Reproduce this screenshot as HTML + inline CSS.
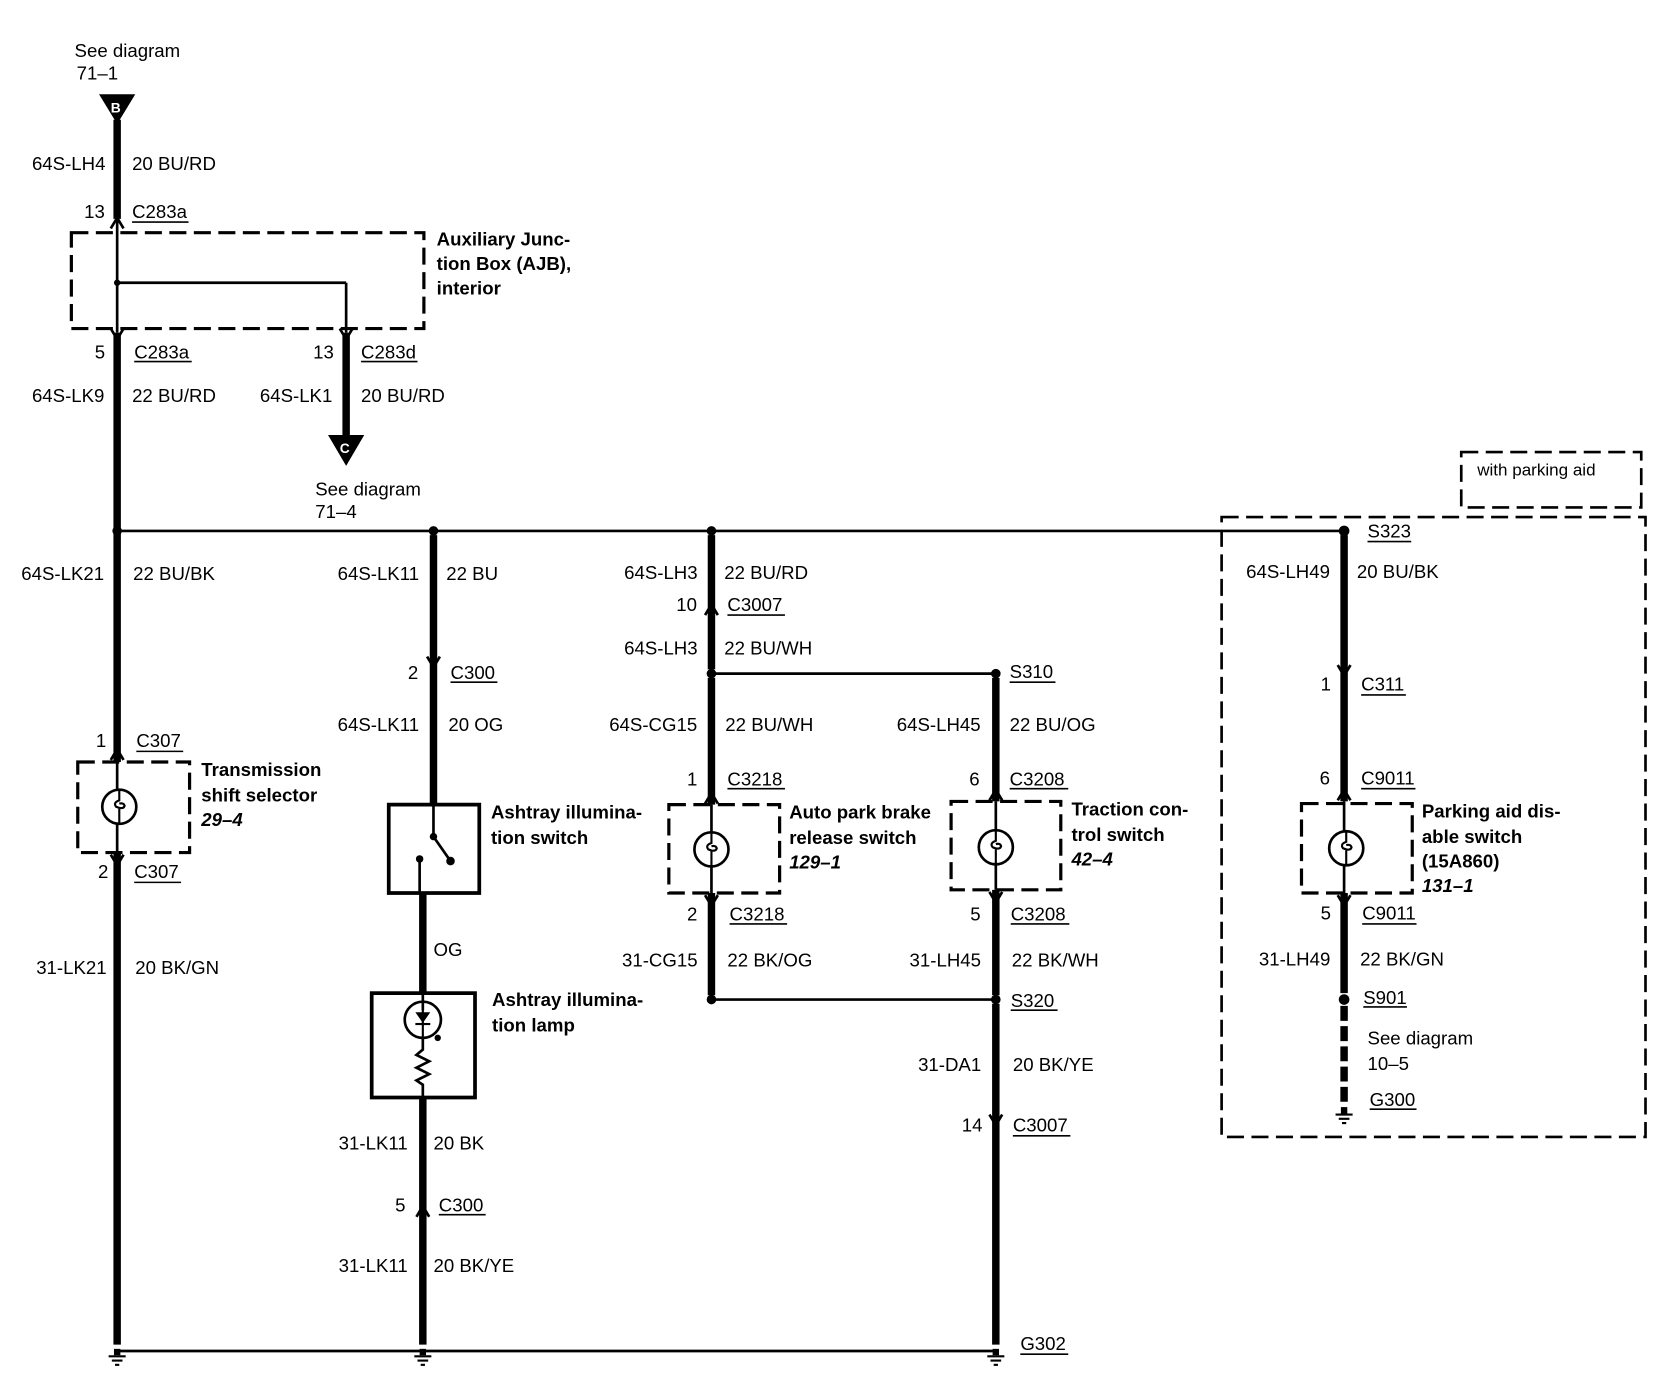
<!DOCTYPE html>
<html><head><meta charset="utf-8"><style>
html,body{margin:0;padding:0;background:#fff;}
svg{display:block}
text{font-family:"Liberation Sans",sans-serif;font-size:17.5px;fill:#000}
.b{font-weight:bold}
.i{font-weight:bold;font-style:italic}
</style></head><body>
<svg width="1670" height="1376" viewBox="0 0 1568 1291" xmlns="http://www.w3.org/2000/svg">
<defs>
<g id="gnd"><rect x="-3" y="-6" width="6" height="6"/><line x1="-8" y1="1" x2="8" y2="1" stroke="#000" stroke-width="2"/><line x1="-5" y1="5" x2="5" y2="5" stroke="#000" stroke-width="2"/><line x1="-2" y1="9" x2="2" y2="9" stroke="#000" stroke-width="2"/></g>
<g id="up"><path d="M-6,6 L0,-4 L6,6" fill="none" stroke="#000" stroke-width="2.5"/></g>
<g id="dn"><path d="M-6,-6 L0,4 L6,-6" fill="none" stroke="#000" stroke-width="2.5"/></g>
<g id="sw"><circle cx="0" cy="0" r="16" fill="#fff" stroke="#000" stroke-width="2.5"/><path d="M0,-16 L0,-6 Q-6,-4 -3,0 Q4,3 5,-1 Q4,-4 0,-3" fill="none" stroke="#000" stroke-width="2"/><line x1="0" y1="2" x2="0" y2="16" stroke="#000" stroke-width="2"/></g>
</defs>
<g stroke="#000" fill="none">
<g stroke-width="2.5">
<line x1="110" y1="205" x2="110" y2="312"/>
<line x1="110" y1="265" x2="325" y2="265"/>
<line x1="325" y1="265" x2="325" y2="312"/>
<line x1="110" y1="498" x2="1262" y2="498"/>
<line x1="668" y1="632" x2="935" y2="632"/>
<line x1="668" y1="938" x2="935" y2="938"/>
<line x1="110" y1="1268" x2="935" y2="1268"/>
<line x1="110" y1="715" x2="110" y2="800"/>
<line x1="668" y1="755" x2="668" y2="838"/>
<line x1="935" y1="752" x2="935" y2="835"/>
<line x1="1262" y1="752" x2="1262" y2="838"/>
</g>
<g stroke-width="7">
<line x1="110" y1="112" x2="110" y2="205"/>
<line x1="110" y1="312" x2="110" y2="715"/>
<line x1="110" y1="800" x2="110" y2="1262"/>
<line x1="325" y1="312" x2="325" y2="412"/>
<line x1="407" y1="502" x2="407" y2="755"/>
<line x1="397" y1="838" x2="397" y2="932"/>
<line x1="397" y1="1030" x2="397" y2="1262"/>
<line x1="668" y1="502" x2="668" y2="628"/>
<line x1="668" y1="636" x2="668" y2="755"/>
<line x1="668" y1="838" x2="668" y2="934"/>
<line x1="935" y1="636" x2="935" y2="752"/>
<line x1="935" y1="835" x2="935" y2="934"/>
<line x1="935" y1="942" x2="935" y2="1262"/>
<line x1="1262" y1="502" x2="1262" y2="752"/>
<line x1="1262" y1="838" x2="1262" y2="932"/>
<line x1="1262" y1="944" x2="1262" y2="1038" stroke-dasharray="14,5"/>
</g>
<g stroke-width="3" stroke-dasharray="16,7">
<rect x="67" y="218" width="331" height="90"/>
<rect x="73" y="715" width="105" height="85"/>
<rect x="628" y="755" width="104" height="83"/>
<rect x="893" y="752" width="103" height="83"/>
<rect x="1222" y="754" width="104" height="84"/>
<rect x="1147" y="485" width="398" height="582" stroke-width="2.5"/>
<rect x="1372" y="424" width="169" height="52" stroke-width="2.5"/>
</g>
<rect x="365" y="755" width="85" height="83" stroke-width="3.5"/>
<rect x="349" y="932" width="97" height="98" stroke-width="3.5"/>
<g stroke-width="2.5">
<line x1="407" y1="755" x2="407" y2="785"/>
<line x1="407" y1="785" x2="423" y2="808"/>
<line x1="394" y1="806" x2="394" y2="838"/>
<line x1="397" y1="932" x2="397" y2="948"/>
<circle cx="397" cy="957" r="17"/>
<path d="M397,974 L397,985 L391,990 L403,996 L391,1002 L403,1008 L391,1014 L397,1018 L397,1030"/>
</g>
</g>
<circle cx="407" cy="785" r="3.5"/><circle cx="423" cy="808" r="4"/><circle cx="394" cy="806" r="3.5"/>
<path d="M390,950 L404,950 L397,960 Z"/><line x1="390" y1="961" x2="404" y2="961" stroke="#000" stroke-width="2"/><line x1="397" y1="940" x2="397" y2="974" stroke="#000" stroke-width="2"/>
<circle cx="411" cy="974" r="3"/>
<use href="#sw" x="112" y="757"/>
<use href="#sw" x="668" y="797"/>
<use href="#sw" x="935" y="795"/>
<use href="#sw" x="1264" y="796"/>
<path d="M93,88 L127,88 L110,116 Z"/>
<text x="104" y="105" style="fill:#fff;font-size:13px" class="b">B</text>
<path d="M308,408 L342,408 L325,437 Z"/>
<text x="319" y="425" style="fill:#fff;font-size:13px" class="b">C</text>
<circle cx="110" cy="498" r="4.5"/><circle cx="407" cy="498" r="4.5"/><circle cx="668" cy="498" r="4.5"/><circle cx="1262" cy="498" r="5"/>
<circle cx="668" cy="632" r="4.5"/><circle cx="935" cy="632" r="4.5"/><circle cx="668" cy="938" r="4.5"/><circle cx="935" cy="938" r="4.5"/>
<circle cx="1262" cy="938" r="5"/><circle cx="110" cy="265" r="3"/>
<use href="#gnd" x="110" y="1272"/><use href="#gnd" x="397" y="1272"/><use href="#gnd" x="935" y="1272"/><use href="#gnd" x="1262" y="1045"/>
<use href="#up" x="110" y="208"/><use href="#dn" x="110" y="314"/><use href="#dn" x="325" y="314"/>
<use href="#up" x="110" y="707"/><use href="#dn" x="110" y="808"/>
<use href="#dn" x="407" y="622"/><use href="#up" x="397" y="1136"/>
<use href="#up" x="668" y="571"/><use href="#up" x="668" y="748"/><use href="#dn" x="668" y="846"/>
<use href="#up" x="935" y="745"/><use href="#dn" x="935" y="843"/><use href="#dn" x="935" y="1052"/>
<use href="#dn" x="1262" y="630"/><use href="#up" x="1262" y="745"/><use href="#dn" x="1262" y="846"/>
<g stroke="#000" stroke-width="1.5">
<line x1="124" y1="208" x2="177" y2="208"/><line x1="126" y1="339" x2="180" y2="339"/><line x1="339" y1="339" x2="392" y2="339"/>
<line x1="128" y1="705" x2="172" y2="705"/><line x1="126" y1="828" x2="170" y2="828"/>
<line x1="423" y1="640" x2="467" y2="640"/><line x1="412" y1="1140" x2="456" y2="1140"/>
<line x1="683" y1="577" x2="737" y2="577"/><line x1="683" y1="740" x2="737" y2="740"/><line x1="685" y1="867" x2="739" y2="867"/>
<line x1="948" y1="640" x2="991" y2="640"/><line x1="948" y1="740" x2="1003" y2="740"/><line x1="949" y1="867" x2="1004" y2="867"/>
<line x1="949" y1="948" x2="993" y2="948"/><line x1="951" y1="1066" x2="1005" y2="1066"/><line x1="958" y1="1271" x2="1003" y2="1271"/>
<line x1="1284" y1="508" x2="1325" y2="508"/><line x1="1278" y1="652" x2="1320" y2="652"/><line x1="1278" y1="740" x2="1329" y2="740"/>
<line x1="1279" y1="867" x2="1330" y2="867"/><line x1="1280" y1="945" x2="1321" y2="945"/><line x1="1286" y1="1041" x2="1330" y2="1041"/>
</g>
<text x="70" y="53">See diagram</text><text x="72" y="74">71–1</text>
<text x="30" y="159">64S-LH4</text><text x="124" y="159">20 BU/RD</text>
<text x="79" y="204">13</text><text x="124" y="204">C283a</text>
<text x="410" y="230" class="b">Auxiliary Junc-</text><text x="410" y="253" class="b">tion Box (AJB),</text><text x="410" y="276" class="b">interior</text>
<text x="89" y="336">5</text><text x="126" y="336">C283a</text><text x="294" y="336">13</text><text x="339" y="336">C283d</text>
<text x="30" y="377">64S-LK9</text><text x="124" y="377">22 BU/RD</text><text x="244" y="377">64S-LK1</text><text x="339" y="377">20 BU/RD</text>
<text x="296" y="465">See diagram</text><text x="296" y="486">71–4</text>
<text x="20" y="544">64S-LK21</text><text x="125" y="544">22 BU/BK</text>
<text x="317" y="544">64S-LK11</text><text x="419" y="544">22 BU</text>
<text x="586" y="543">64S-LH3</text><text x="680" y="543">22 BU/RD</text>
<text x="635" y="573">10</text><text x="683" y="573">C3007</text>
<text x="586" y="614">64S-LH3</text><text x="680" y="614">22 BU/WH</text>
<text x="383" y="637">2</text><text x="423" y="637">C300</text>
<text x="948" y="636">S310</text>
<text x="317" y="686">64S-LK11</text><text x="421" y="686">20 OG</text>
<text x="572" y="686">64S-CG15</text><text x="681" y="686">22 BU/WH</text>
<text x="842" y="686">64S-LH45</text><text x="948" y="686">22 BU/OG</text>
<text x="90" y="701">1</text><text x="128" y="701">C307</text>
<text x="189" y="728" class="b">Transmission</text><text x="189" y="752" class="b">shift selector</text><text x="189" y="775" class="i">29–4</text>
<text x="645" y="737">1</text><text x="683" y="737">C3218</text><text x="910" y="737">6</text><text x="948" y="737">C3208</text>
<text x="461" y="768" class="b">Ashtray illumina-</text><text x="461" y="792" class="b">tion switch</text>
<text x="741" y="768" class="b">Auto park brake</text><text x="741" y="792" class="b">release switch</text><text x="741" y="815" class="i">129–1</text>
<text x="1006" y="765" class="b">Traction con-</text><text x="1006" y="789" class="b">trol switch</text><text x="1006" y="812" class="i">42–4</text>
<text x="92" y="824">2</text><text x="126" y="824">C307</text>
<text x="645" y="864">2</text><text x="685" y="864">C3218</text><text x="911" y="864">5</text><text x="949" y="864">C3208</text>
<text x="407" y="897">OG</text>
<text x="584" y="907">31-CG15</text><text x="683" y="907">22 BK/OG</text>
<text x="854" y="907">31-LH45</text><text x="950" y="907">22 BK/WH</text>
<text x="34" y="914">31-LK21</text><text x="127" y="914">20 BK/GN</text>
<text x="462" y="944" class="b">Ashtray illumina-</text><text x="462" y="968" class="b">tion lamp</text>
<text x="949" y="945">S320</text>
<text x="862" y="1005">31-DA1</text><text x="951" y="1005">20 BK/YE</text>
<text x="903" y="1062">14</text><text x="951" y="1062">C3007</text>
<text x="318" y="1079">31-LK11</text><text x="407" y="1079">20 BK</text>
<text x="371" y="1137">5</text><text x="412" y="1137">C300</text>
<text x="318" y="1194">31-LK11</text><text x="407" y="1194">20 BK/YE</text>
<text x="958" y="1267">G302</text>
<text x="1387" y="446" style="font-size:16px">with parking aid</text>
<text x="1284" y="504">S323</text>
<text x="1170" y="542">64S-LH49</text><text x="1274" y="542">20 BU/BK</text>
<text x="1240" y="648">1</text><text x="1278" y="648">C311</text>
<text x="1239" y="736">6</text><text x="1278" y="736">C9011</text>
<text x="1335" y="767" class="b">Parking aid dis-</text><text x="1335" y="791" class="b">able switch</text><text x="1335" y="814" class="b">(15A860)</text><text x="1335" y="837" class="i">131–1</text>
<text x="1240" y="863">5</text><text x="1279" y="863">C9011</text>
<text x="1182" y="906">31-LH49</text><text x="1277" y="906">22 BK/GN</text>
<text x="1280" y="942">S901</text>
<text x="1284" y="980">See diagram</text><text x="1284" y="1004">10–5</text>
<text x="1286" y="1038">G300</text>
</svg>
</body></html>
